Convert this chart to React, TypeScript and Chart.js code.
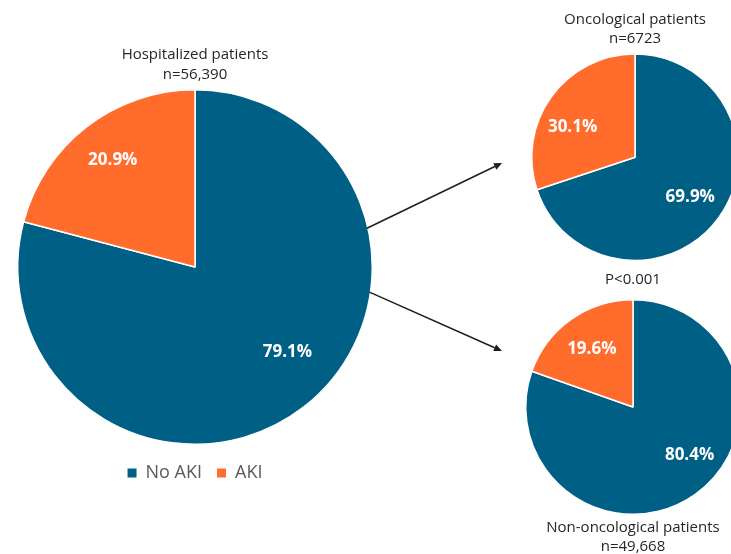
import { useEffect, useRef } from "react";
import { Chart, registerables } from "chart.js";

Chart.register(...registerables);

// AKI share (%) per patient group
const categories = ["No AKI", "AKI"];
const allPatients = [79.1, 20.9];
const oncological = [69.9, 30.1];
const nonOncological = [80.4, 19.6];

const allTitle = ["Hospitalized patients", "n=56,390"];
const oncoTitle = ["Oncological patients", "n=6723"];
const nonOncoTitle = ["Non-oncological patients", "n=49,668"];
const pValue = "P<0.001";

const COLORS = ["#005F84", "#FF6C2C"];
const FONT = "'Open Sans', 'Noto Sans', sans-serif";
const TEXT = "#262626";

// White percentage labels inside each slice
const sliceLabels = {
  id: "sliceLabels",
  afterDatasetsDraw(chart: any, _args: any, opts: any) {
    const meta = chart.getDatasetMeta(0);
    const values = chart.data.datasets[0].data as number[];
    const ctx = chart.ctx;
    ctx.save();
    ctx.font = `bold ${opts.size}px ${FONT}`;
    ctx.fillStyle = "#ffffff";
    ctx.textAlign = "center";
    ctx.textBaseline = "middle";
    meta.data.forEach((arc: any, i: number) => {
      const p = arc.getProps(["x", "y", "startAngle", "endAngle", "outerRadius"], true);
      const place = opts.placement[i];
      const a = (p.startAngle + p.endAngle) / 2 + (place.shift * Math.PI) / 180;
      const r = p.outerRadius * place.radius;
      ctx.fillText(`${values[i].toFixed(1)}%`, p.x + Math.cos(a) * r, p.y + Math.sin(a) * r);
    });
    ctx.restore();
  },
};

// Arrows leading from the overall pie to the two subgroup pies
const arrows = {
  id: "arrows",
  afterDraw(chart: any, _args: any, opts: any) {
    const arc = chart.getDatasetMeta(0).data[0];
    if (!arc) return;
    const p = arc.getProps(["x", "y", "outerRadius"], true);
    const ctx = chart.ctx;
    ctx.save();
    ctx.strokeStyle = "#1e1e1e";
    ctx.fillStyle = "#1e1e1e";
    ctx.lineWidth = 1.5;
    for (const item of opts.items) {
      const a = (item.from * Math.PI) / 180;
      const sx = p.x + Math.cos(a) * (p.outerRadius - 1);
      const sy = p.y + Math.sin(a) * (p.outerRadius - 1);
      const [ex, ey] = item.to;
      const ang = Math.atan2(ey - sy, ex - sx);
      const head = 8;
      const half = 3.5;
      const bx = ex - Math.cos(ang) * head;
      const by = ey - Math.sin(ang) * head;
      ctx.beginPath();
      ctx.moveTo(sx, sy);
      ctx.lineTo(bx, by);
      ctx.stroke();
      ctx.beginPath();
      ctx.moveTo(ex, ey);
      ctx.lineTo(bx - Math.sin(ang) * half, by + Math.cos(ang) * half);
      ctx.lineTo(bx + Math.sin(ang) * half, by - Math.cos(ang) * half);
      ctx.closePath();
      ctx.fill();
    }
    ctx.restore();
  },
};

function pieDataset(values: number[]) {
  return {
    labels: categories,
    datasets: [
      {
        data: values,
        backgroundColor: COLORS,
        borderColor: "#ffffff",
        borderWidth: 1.5,
      },
    ],
  };
}

const titleFont = { family: FONT, size: 15, lineHeight: 19 / 15 };

export default function App() {
  const bigRef = useRef<HTMLCanvasElement>(null);
  const oncoRef = useRef<HTMLCanvasElement>(null);
  const nonOncoRef = useRef<HTMLCanvasElement>(null);

  useEffect(() => {
    const charts: Chart[] = [];

    charts.push(
      new Chart(bigRef.current!, {
        type: "pie",
        data: pieDataset(allPatients),
        plugins: [sliceLabels, arrows],
        options: {
          responsive: false,
          animation: false,
          layout: { padding: { left: 17, right: 358, top: 0, bottom: 62 } },
          plugins: {
            tooltip: { enabled: false },
            title: {
              display: true,
              text: allTitle,
              color: TEXT,
              font: { family: FONT, size: 15, lineHeight: 20 / 15, weight: "normal" },
              padding: { top: 45, bottom: 0 },
            },
            legend: {
              display: true,
              position: "bottom",
              labels: {
                boxWidth: 9,
                boxHeight: 9,
                padding: 15,
                color: "#595959",
                font: { family: FONT, size: 18 },
                generateLabels: (chart: any) => {
                  const ds = chart.data.datasets[0];
                  return (chart.data.labels as string[]).map((text, i) => ({
                    text,
                    fillStyle: ds.backgroundColor[i],
                    strokeStyle: ds.backgroundColor[i],
                    lineWidth: 0,
                    hidden: false,
                    index: i,
                    fontColor: "#595959",
                  }));
                },
              },
            },
            sliceLabels: {
              size: 17,
              placement: [
                { radius: 0.71, shift: -9.6 },
                { radius: 0.76, shift: 0 },
              ],
            },
            arrows: {
              items: [
                { from: -12.7, to: [502, 163] },
                { from: 8.2, to: [502, 351] },
              ],
            },
          } as any,
        },
      })
    );

    charts.push(
      new Chart(oncoRef.current!, {
        type: "pie",
        data: pieDataset(oncological),
        plugins: [sliceLabels],
        options: {
          responsive: false,
          animation: false,
          layout: { padding: { left: 31, right: 31, top: 0, bottom: 0 } },
          plugins: {
            tooltip: { enabled: false },
            legend: { display: false },
            title: {
              display: true,
              text: oncoTitle,
              color: TEXT,
              font: { ...titleFont, weight: "normal" },
              padding: { top: 10.5, bottom: 0 },
            },
            sliceLabels: {
              size: 17,
              placement: [
                { radius: 0.66, shift: 0 },
                { radius: 0.67, shift: -10.3 },
              ],
            },
          } as any,
        },
      })
    );

    charts.push(
      new Chart(nonOncoRef.current!, {
        type: "pie",
        data: pieDataset(nonOncological),
        plugins: [sliceLabels],
        options: {
          responsive: false,
          animation: false,
          layout: { padding: { left: 27, right: 27, top: 0, bottom: 0 } },
          plugins: {
            tooltip: { enabled: false },
            legend: { display: false },
            title: {
              display: true,
              text: pValue,
              color: TEXT,
              font: { ...titleFont, weight: "normal" },
              padding: { top: 8.5, bottom: 6 },
            },
            subtitle: {
              display: true,
              position: "bottom",
              text: nonOncoTitle,
              color: TEXT,
              font: { ...titleFont, weight: "normal" },
              padding: { top: 0, bottom: 0.5 },
            },
            sliceLabels: {
              size: 17,
              placement: [
                { radius: 0.69, shift: -14.6 },
                { radius: 0.665, shift: 0 },
              ],
            },
          } as any,
        },
      })
    );

    return () => charts.forEach((c) => c.destroy());
  }, []);

  return (
    <div
      style={{
        position: "absolute",
        left: 0,
        top: 0,
        width: 731,
        height: 554,
        overflow: "hidden",
        background: "#ffffff",
      }}
    >
      <canvas ref={bigRef} width={731} height={554} style={{ position: "absolute", left: 0, top: 0 }} />
      <canvas ref={oncoRef} width={270} height={266} style={{ position: "absolute", left: 500, top: 0 }} />
      <canvas ref={nonOncoRef} width={270} height={295} style={{ position: "absolute", left: 498, top: 262 }} />
    </div>
  );
}
